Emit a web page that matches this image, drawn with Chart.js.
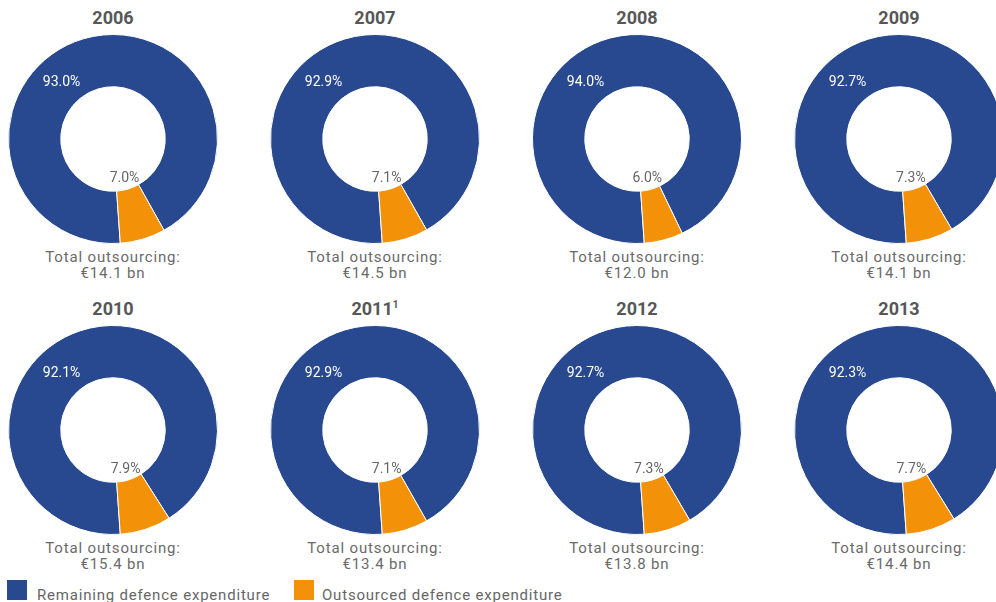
<!DOCTYPE html>
<html>
<head>
<meta charset="utf-8">
<script src="https://cdn.jsdelivr.net/npm/chart.js@4"></script>
<style>
  html, body { margin: 0; padding: 0; background: #fff; }
  body { width: 996px; height: 602px; position: relative; overflow: hidden; font-family: Roboto, "DejaVu Sans", sans-serif; }
  .title { position: absolute; width: 200px; text-align: center; font-weight: bold; font-size: 18px; color: #575757; line-height: 20px; height: 20px; }
  .title sup { font-size: 10px; line-height: 0; vertical-align: 0; position: relative; top: -7px; }
  .total { position: absolute; width: 220px; text-align: center; font-size: 15px; color: #6a6a6a; line-height: 16px; letter-spacing: 0.85px; }
  canvas.donut { position: absolute; }
  .legend { position: absolute; top: 580px; left: 7px; font-size: 15px; color: #666; letter-spacing: 0.8px; }
  .legend span.box { position: absolute; top: 0; width: 20px; height: 20px; }
  .legend span.txt { position: absolute; top: 6px; white-space: nowrap; line-height: 18px; }
</style>
</head>
<body>
<div class="legend">
  <span class="box" style="left:0; background:#284890"></span>
  <span class="txt" style="left:30px">Remaining defence expenditure</span>
  <span class="box" style="left:287px; background:#f39208"></span>
  <span class="txt" style="left:315px">Outsourced defence expenditure</span>
</div>
<script>
// =======================
// Data
// =======================
const years = ["2006", "2007", "2008", "2009", "2010", "2011", "2012", "2013"];
const yearNotes = ["", "", "", "", "", "1", "", ""];
const remaining = [93.0, 92.9, 94.0, 92.7, 92.1, 92.9, 92.7, 92.3];
const outsourced = [7.0, 7.1, 6.0, 7.3, 7.9, 7.1, 7.3, 7.7];
const totalBn = [14.1, 14.5, 12.0, 14.1, 15.4, 13.4, 13.8, 14.4];
const seriesNames = ["Remaining defence expenditure", "Outsourced defence expenditure"];

const BLUE = "#284890";
const ORANGE = "#f39208";

// grid placement
const colX = [113, 375, 637, 899];
const rowY = [139, 430];
const SIZE = 216;

// =======================
// Labels on the donut
// =======================
const pctLabels = {
  id: "pctLabels",
  afterDatasetsDraw(chart) {
    const ctx = chart.ctx;
    const meta = chart.getDatasetMeta(0);
    const vals = chart.data.datasets[0].data;
    const blue = meta.data[0];
    const orange = meta.data[1];
    ctx.save();
    ctx.font = "14px Roboto, sans-serif";
    ctx.textAlign = "center";
    ctx.textBaseline = "middle";

    // remaining share: upper-left part of the ring
    const rMid = (blue.innerRadius + blue.outerRadius) / 2;
    const a = -132 * Math.PI / 180;
    ctx.fillStyle = "#ffffff";
    ctx.fillText(vals[0].toFixed(1) + "%", blue.x + rMid * Math.cos(a) + 1, blue.y + rMid * Math.sin(a) + 2);

    // outsourced share: inside the hole, next to its slice
    const mid = (orange.startAngle + orange.endAngle) / 2;
    const rIn = orange.innerRadius - 12;
    ctx.fillStyle = "#666666";
    ctx.fillText(vals[1].toFixed(1) + "%", orange.x + rIn * Math.cos(mid), orange.y + rIn * Math.sin(mid) + 1);
    ctx.restore();
  }
};

// =======================
// Build the grid
// =======================
years.forEach((year, i) => {
  const cx = colX[i % 4];
  const cy = rowY[Math.floor(i / 4)];

  const title = document.createElement("div");
  title.className = "title";
  title.style.left = (cx - 100) + "px";
  title.style.top = (cy - 131) + "px";
  title.innerHTML = year + (yearNotes[i] ? "<sup>" + yearNotes[i] + "</sup>" : "");
  document.body.appendChild(title);

  const total = document.createElement("div");
  total.className = "total";
  total.style.left = (cx - 110) + "px";
  total.style.top = (cy + 110) + "px";
  total.innerHTML = "Total outsourcing:<br>€" + totalBn[i].toFixed(1) + " bn";
  document.body.appendChild(total);

  const canvas = document.createElement("canvas");
  canvas.className = "donut";
  canvas.width = SIZE;
  canvas.height = SIZE;
  canvas.style.left = (cx - SIZE / 2) + "px";
  canvas.style.top = (cy - SIZE / 2) + "px";
  document.body.appendChild(canvas);

  new Chart(canvas.getContext("2d"), {
    type: "doughnut",
    data: {
      labels: seriesNames,
      datasets: [{
        data: [remaining[i], outsourced[i]],
        backgroundColor: [BLUE, ORANGE],
        borderColor: "#ffffff",
        borderWidth: 1
      }]
    },
    options: {
      responsive: false,
      animation: false,
      rotation: 176,
      cutout: "50%",
      layout: { padding: 3 },
      plugins: {
        legend: { display: false },
        tooltip: { enabled: false }
      }
    },
    plugins: [pctLabels]
  });
});
</script>
</body>
</html>
